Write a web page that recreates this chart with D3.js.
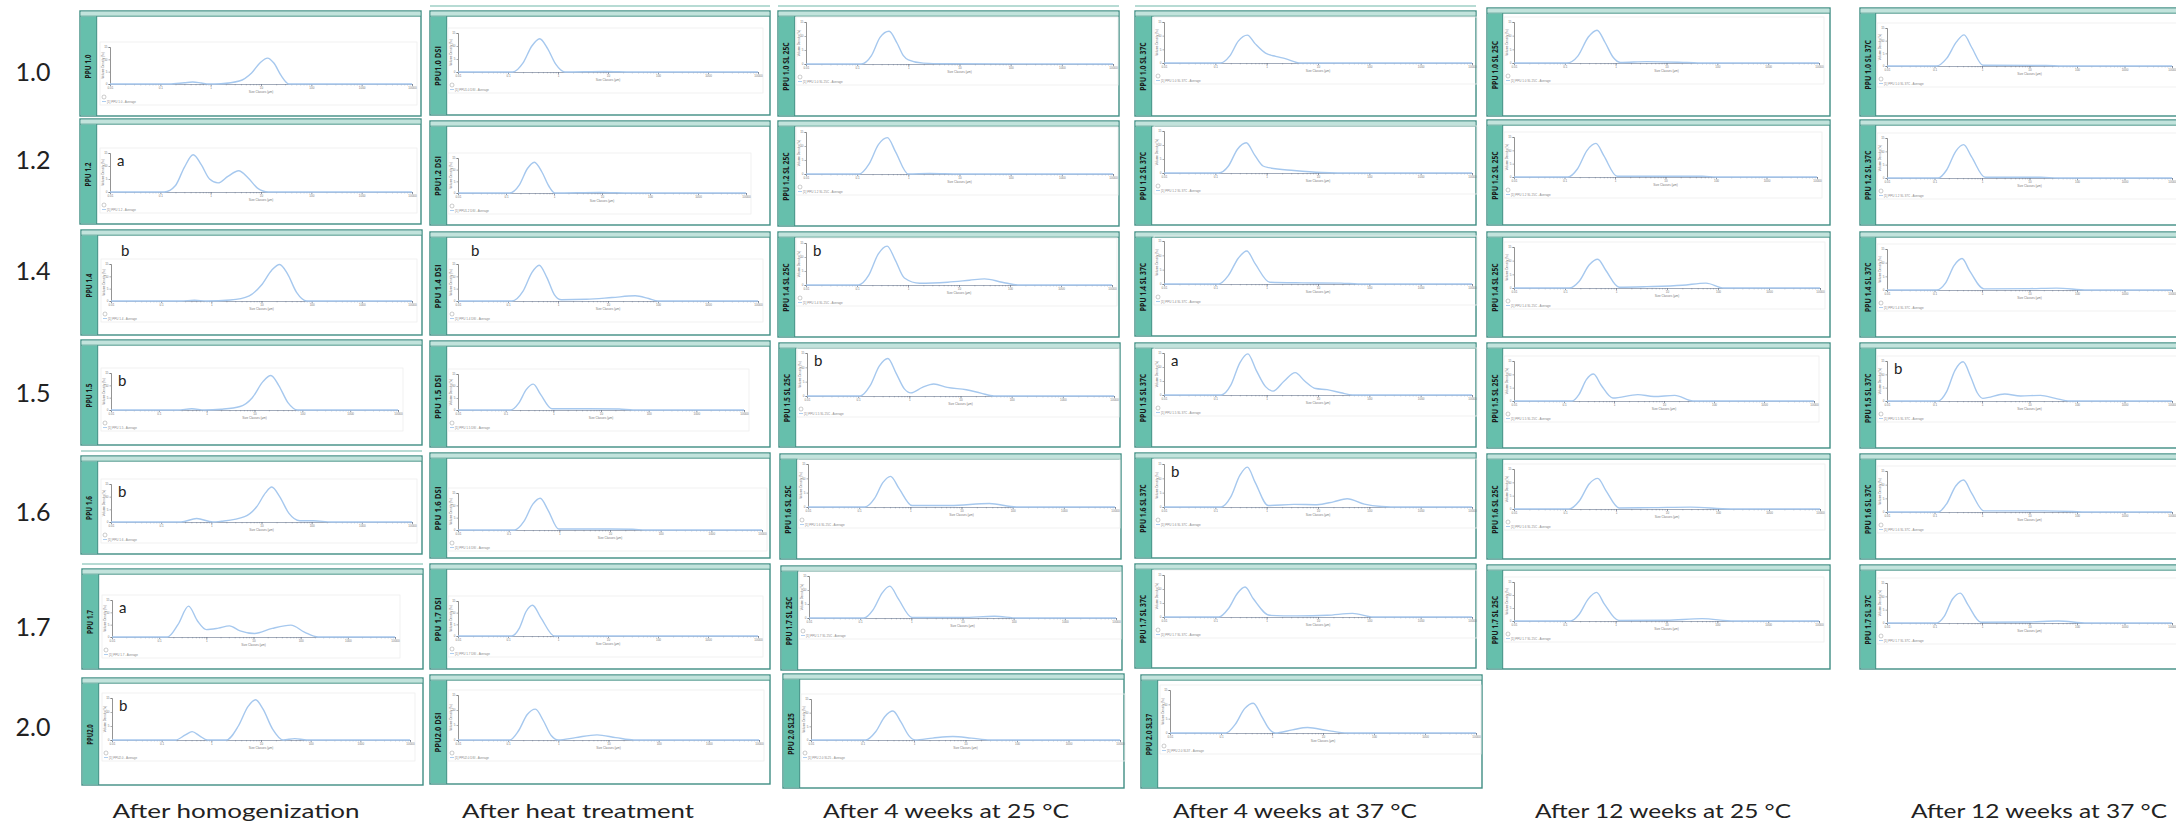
<!DOCTYPE html>
<html>
<head>
<meta charset="utf-8">
<script src="https://cdn.jsdelivr.net/npm/d3@7"></script>
<style>
body { margin: 0; background: #fff; }
</style>
</head>
<body>
<script>
var width = 2176;
var height = 826;

// ---- data ----
var rowLabels = ["1.0", "1.2", "1.4", "1.5", "1.6", "1.7", "2.0"];
var stageLabels = ["After homogenization", "After heat treatment", "After 4 weeks at 25 \u00B0C",
  "After 4 weeks at 37 \u00B0C", "After 12 weeks at 25 \u00B0C", "After 12 weeks at 37 \u00B0C"];

var xTickValues = [0.01, 0.1, 1, 10, 100, 1000, 10000];
var xTickLabels = ["0.01", "0.1", "1", "10", "100", "1000", "10000"];
var yTickValues = [0, 5, 10, 15];

var homogenizationTitles = ["PPU 1.0", "PPU 1.2", "PPU 1.4", "PPU 1.5", "PPU 1.6", "PPU 1.7", "PPU2.0"];
var heatTitles = ["PPU1.0 DSI", "PPU1.2 DSI", "PPU 1.4 DSI", "PPU 1.5 DSI", "PPU 1.6 DSI", "PPU 1.7 DSI", "PPU2.0 DSI"];
var week4c25Titles = ["PPU 1.0 SL 25C", "PPU 1.2 SL 25C", "PPU 1.4 SL 25C", "PPU 1.5 SL 25C", "PPU 1.6 SL 25C", "PPU 1.7 SL 25C", "PPU 2.0 SL25"];
var week4c37Titles = ["PPU 1.0 SL 37C", "PPU 1.2 SL 37C", "PPU 1.4 SL 37C", "PPU 1.5 SL 37C", "PPU 1.6 SL 37C", "PPU 1.7 SL 37C", "PPU 2.0 SL37"];
var week12c25Titles = ["PPU 1.0 SL 25C", "PPU 1.2 SL 25C", "PPU 1.4 SL 25C", "PPU 1.5 SL 25C", "PPU 1.6 SL 25C", "PPU 1.7 SL 25C"];
var week12c37Titles = ["PPU 1.0 SL 37C", "PPU 1.2 SL 37C", "PPU 1.4 SL 37C", "PPU 1.5 SL 37C", "PPU 1.6 SL 37C", "PPU 1.7 SL 37C"];

var homogenizationLetters = ["", "a", "b", "b", "b", "a", "b"];
var heatLetters = ["", "", "b", "", "", "", ""];
var week4c25Letters = ["", "", "b", "b", "", "", ""];
var week4c37Letters = ["", "", "", "a", "b", "", ""];
var week12c25Letters = ["", "", "", "", "", ""];
var week12c37Letters = ["", "", "", "b", "", ""];

// size (um), volume density (%)
var homogenizationCurves = [
  [[0.01,0],[0.15,0],[0.3,0.5],[0.44,0.8],[0.65,0.4],[0.9,0],[1.6,0.1],[3.7,1.2],[6.5,4.5],[9.5,8.5],[13.5,10.5],[18,8.5],[25,3.5],[36,0],[10000,0]],
  [[0.01,0],[0.12,0],[0.2,2.5],[0.3,9.5],[0.45,14.3],[0.65,10.5],[0.95,5],[1.4,3.5],[2.2,6],[3.6,8.2],[5.5,5.5],[8.5,1.5],[14,0],[10000,0]],
  [[0.01,0],[0.25,0],[0.46,0.3],[0.8,0],[2.4,0.4],[5.7,2.1],[10,6.5],[16,12.5],[23,14.8],[33,11],[50,3.5],[80,0],[10000,0]],
  [[0.01,0],[0.25,0],[0.49,0.5],[0.9,0],[2,0.3],[5,1.4],[9,5],[15,11.5],[22,14],[32,10],[50,3],[80,0],[10000,0]],
  [[0.01,0],[0.25,0],[0.51,1.4],[1.07,0],[1.6,0.3],[4.6,2.1],[8,6],[12,11.5],[16,13.8],[23,10],[35,3.5],[58,0.5],[107,0.5],[250,0],[10000,0]],
  [[0.01,0],[0.15,0],[0.25,5],[0.42,12.5],[0.65,6.5],[1.0,3],[1.8,3.6],[3.1,4.5],[5.2,2.5],[10.5,1.4],[25,3.5],[62,4.8],[120,2],[235,0],[10000,0]],
  [[0.01,0],[0.19,0],[0.3,1.8],[0.41,3],[0.58,1.5],[0.83,0],[2,0],[3.5,5],[5.5,12],[7.8,14.4],[11,11],[17,4],[28,0],[48,0.5],[83,0],[10000,0]]
];
var heatCurves = [
  [[0.01,0],[0.125,0],[0.2,3.5],[0.3,10],[0.43,12.8],[0.62,9],[0.9,3],[1.37,0],[8.7,0.2],[30,0],[10000,0]],
  [[0.01,0],[0.12,0],[0.19,3.5],[0.28,10.5],[0.39,13.2],[0.56,9],[0.78,3],[1.04,0],[9,0.2],[40,0],[10000,0]],
  [[0.01,0],[0.12,0],[0.2,4],[0.3,11.5],[0.42,14.5],[0.6,9.5],[0.85,2.5],[1.17,0.5],[3.7,0.7],[12,1.4],[35,2.1],[65,1],[100,0],[10000,0]],
  [[0.01,0],[0.126,0],[0.19,3],[0.27,8.5],[0.38,10.8],[0.54,6.5],[0.93,0.5],[5,0.5],[24,0.4],[47,0],[10000,0]],
  [[0.01,0],[0.13,0],[0.2,3.5],[0.3,10.5],[0.42,12.9],[0.6,8],[0.97,0.4],[10,0.4],[28,0.3],[50,0],[10000,0]],
  [[0.01,0],[0.118,0],[0.17,3.5],[0.23,10.5],[0.31,13.2],[0.45,8],[0.85,0],[10000,0]],
  [[0.01,0],[0.107,0],[0.16,3],[0.24,8.5],[0.35,10.3],[0.5,6.5],[0.72,1.5],[1.0,0],[2.2,0.8],[5.9,1.7],[14,0.8],[32,0],[10000,0]]
];
var week4c25Curves = [
  [[0.01,0],[0.12,0],[0.19,3],[0.28,9.5],[0.42,11.7],[0.6,7.5],[0.8,3],[1.0,1.5],[1.96,0.3],[5,0.1],[10000,0]],
  [[0.01,0],[0.11,0],[0.17,3.5],[0.26,10.5],[0.39,13],[0.56,8],[1.0,0],[2.6,0.2],[10,0],[10000,0]],
  [[0.01,0],[0.107,0],[0.17,3.5],[0.26,11],[0.39,13.9],[0.56,9],[0.85,2.5],[1.7,0.6],[6,1],[16,1.7],[31.6,2.2],[70,1],[150,0],[10000,0]],
  [[0.01,0],[0.11,0],[0.17,3.5],[0.26,10.5],[0.38,13.1],[0.55,8],[0.8,2.5],[1.07,1.1],[1.8,3],[3.0,4.2],[5.5,3],[13,2.2],[25,1],[45,0],[10000,0]],
  [[0.01,0],[0.13,0],[0.2,3],[0.29,8.5],[0.41,10.7],[0.6,6.5],[1.08,0.5],[6,0.5],[35,1.2],[118,0],[10000,0]],
  [[0.01,0],[0.118,0],[0.18,3],[0.27,9],[0.38,11.4],[0.55,7],[1.03,0.2],[10,0.2],[42,0.6],[120,0],[10000,0]],
  [[0.01,0],[0.115,0],[0.18,3],[0.27,8.5],[0.39,10.6],[0.56,6.5],[0.8,1.5],[1.05,0],[2.3,0.7],[5.7,1.3],[13,0.7],[30,0],[10000,0]]
];
var week4c37Curves = [
  [[0.01,0],[0.125,0],[0.19,2.5],[0.28,8],[0.42,10.2],[0.6,7],[0.95,3.6],[1.5,2.4],[2.3,1.6],[4.6,0],[10000,0]],
  [[0.01,0],[0.117,0],[0.18,2.5],[0.27,8.5],[0.4,10.8],[0.58,6.5],[0.85,2.5],[1.1,1.9],[3.4,0.9],[11.6,0.2],[50,0],[10000,0]],
  [[0.01,0],[0.117,0],[0.18,3],[0.28,9],[0.41,11.5],[0.6,7],[1.15,0.6],[5,0.4],[28,0.3],[60,0],[10000,0]],
  [[0.01,0],[0.13,0],[0.2,3.5],[0.3,11.5],[0.43,14.7],[0.62,9],[0.95,3],[1.33,1.4],[2.2,5],[3.6,8],[5.5,5],[9,2.3],[15,1.9],[28,0.8],[47,0],[10000,0]],
  [[0.01,0],[0.13,0],[0.2,3.5],[0.3,11],[0.42,13.9],[0.6,8.5],[1.07,0.5],[3.4,0.9],[9.5,0.8],[20,1.8],[37,2.9],[80,1],[174,0.2],[400,0],[10000,0]],
  [[0.01,0],[0.117,0],[0.18,3],[0.27,8.5],[0.38,10.7],[0.55,6.5],[1.15,0.6],[4,0.4],[15,0.6],[47,1.3],[118,0],[10000,0]],
  [[0.01,0],[0.125,0],[0.19,3],[0.29,8.5],[0.43,10.4],[0.62,6],[0.9,1.2],[1.16,0],[2.5,1.1],[5,1.9],[12,0.9],[30,0],[10000,0]]
];
var week12c25Curves = [
  [[0.01,0],[0.11,0],[0.18,2.5],[0.29,9.5],[0.43,12],[0.62,7.5],[0.9,2],[1.23,0.2],[4.1,0.5],[25,0.2],[60,0],[10000,0]],
  [[0.01,0],[0.117,0],[0.18,3],[0.28,10],[0.42,12.6],[0.6,8],[1.1,0.3],[54,0.3],[100,0],[10000,0]],
  [[0.01,0],[0.12,0],[0.19,2.5],[0.3,8.5],[0.44,10.5],[0.63,6.5],[1.15,0.3],[4,0.5],[20,1],[58,1.8],[130,0],[10000,0]],
  [[0.01,0],[0.145,0],[0.2,2.5],[0.28,8],[0.39,10.1],[0.55,6],[0.95,1.1],[3.0,2.4],[6.3,1.7],[16.4,2.1],[38,0],[10000,0]],
  [[0.01,0],[0.12,0],[0.19,3],[0.3,9.5],[0.44,11.5],[0.63,7],[1.15,0.4],[5,0.5],[29,0.7],[178,0],[10000,0]],
  [[0.01,0],[0.13,0],[0.19,2.5],[0.29,8.5],[0.42,11],[0.6,6.5],[1.15,0.2],[10,0.3],[50,0.9],[214,0],[10000,0]]
];
var week12c37Curves = [
  [[0.01,0],[0.11,0],[0.18,3],[0.29,9.5],[0.42,12.3],[0.6,7.5],[1.05,0.3],[22,0.2],[50,0],[10000,0]],
  [[0.01,0],[0.12,0],[0.18,3],[0.28,10],[0.41,12.5],[0.6,8],[1.16,0.3],[17,0.3],[40,0],[10000,0]],
  [[0.01,0],[0.11,0],[0.17,2.5],[0.26,9],[0.38,11.5],[0.55,7],[1.1,0.4],[10,0.5],[37,0.7],[165,0],[10000,0]],
  [[0.01,0],[0.12,0],[0.18,3.5],[0.27,11.5],[0.4,14.7],[0.58,9],[0.8,3],[1.04,1],[3,2.6],[6.5,1.9],[17,2.1],[35,1],[70,0],[10000,0]],
  [[0.01,0],[0.12,0],[0.18,3],[0.28,9.5],[0.41,11.7],[0.6,7],[1.1,0.4],[20,0.4],[80,0.2],[150,0],[10000,0]],
  [[0.01,0],[0.11,0],[0.16,2.5],[0.24,9],[0.35,11.2],[0.5,7],[0.95,0.3],[10,0.4],[40,0.75],[165,0],[10000,0]]
];

var stageTitles = [homogenizationTitles, heatTitles, week4c25Titles, week4c37Titles, week12c25Titles, week12c37Titles];
var stageCurves = [homogenizationCurves, heatCurves, week4c25Curves, week4c37Curves, week12c25Curves, week12c37Curves];
var stageLetters = [homogenizationLetters, heatLetters, week4c25Letters, week4c37Letters, week12c25Letters, week12c37Letters];

// ---- layout (pixels) ----
var panelLeft = [
  [80, 80, 81, 81, 81, 82, 82],
  [430, 430, 430, 430, 430, 430, 430],
  [778, 778, 778, 779, 780, 781, 783],
  [1135, 1135, 1135, 1135, 1135, 1135, 1141],
  [1487, 1487, 1487, 1487, 1487, 1487],
  [1860, 1860, 1860, 1860, 1860, 1860]
];
var panelWidth = [341, 340, 341, 341, 343, 360];
var panelTop = [
  [11, 119, 230, 340, 456, 569, 678],
  [11, 121, 232, 341, 453, 564, 675],
  [11, 121, 232, 343, 454, 566, 674],
  [11, 121, 232, 343, 453, 564, 675],
  [8, 120, 232, 343, 454, 565],
  [8, 120, 232, 343, 454, 565]
];
var panelBottom = [
  [116, 224, 335, 445, 554, 669, 785],
  [115, 225, 335, 447, 558, 669, 784],
  [116, 226, 337, 447, 559, 670, 788],
  [116, 225, 336, 447, 558, 668, 788],
  [116, 225, 337, 448, 559, 669],
  [116, 225, 337, 448, 559, 669]
];
var sideWidth = [16, 16, 16, 16, 15, 15];
var plotLeft = [30, 28, 28, 29, 27, 27];
var plotRight = [
  [332, 332, 331, 317, 331, 313, 328],
  [328, 316, 328, 314, 332, 328, 329],
  [335, 335, 334, 335, 335, 335, 337],
  [337, 337, 337, 337, 337, 337, 335],
  [332, 330, 333, 327, 333, 332],
  [312, 312, 312, 312, 312, 312]
];
var plotTop = [
  [36, 34, 34, 33, 28, 31, 20],
  [22, 37, 32, 33, 40, 37, 20],
  [11, 11, 11, 10, 10, 10, 25],
  [11, 10, 9, 10, 11, 11, 15],
  [14, 17, 15, 18, 15, 17],
  [20, 18, 17, 18, 17, 18]
];
var plotBase = [
  [73, 73, 71, 70, 66, 68, 62],
  [61, 72, 69, 69, 77, 72, 65],
  [53, 53, 53, 53, 53, 52, 66],
  [52, 52, 52, 52, 54, 53, 58],
  [55, 57, 56, 58, 55, 56],
  [58, 58, 58, 58, 58, 58]
];
var sideTextLength = [3.4, 4.0, 3.45, 3.45, 3.45, 3.55];
var letterShift = { "0-2": [10, -8], "1-2": [13, -8] };
var ghostLines = [[1, 0], [2, 0], [3, 0], [0, 4], [0, 5]];

var rowLabelY = [72, 160, 271, 393, 512, 627, 727];
var stageLabelX = [236, 578, 946, 1295, 1663, 2039];
var stageLabelW = [247, 232, 246, 244, 256, 256];

var teal = "#66bfac";
var tealDark = "#3f8e83";
var tealLight = "#c2e3dc";
var curveColor = "#a6c8ee";
var tinyFont = "'Liberation Sans', sans-serif";

var svg = d3.select("body")
  .append("svg")
  .attr("width", width)
  .attr("height", height)
  .style("display", "block");

svg.append("rect").attr("width", width).attr("height", height).attr("fill", "#fff");

// faint leftover edges above some screenshots
ghostLines.forEach(function(g) {
  var c = g[0], r = g[1];
  svg.append("line")
    .attr("x1", panelLeft[c][r]).attr("x2", panelLeft[c][r] + panelWidth[c])
    .attr("y1", panelTop[c][r] - 5).attr("y2", panelTop[c][r] - 5)
    .attr("stroke", "#9fcfc6").attr("stroke-width", 1.5);
});

stageCurves.forEach(function(curves, c) {
  curves.forEach(function(points, r) {
    var left = panelLeft[c][r];
    var top = panelTop[c][r];
    var w = panelWidth[c];
    var h = panelBottom[c][r] - top;
    var sw = sideWidth[c];

    var g = svg.append("g").attr("transform", "translate(" + left + "," + top + ")");

    // panel frame
    g.append("rect").attr("x", 0).attr("y", 0).attr("width", w).attr("height", h)
      .attr("fill", "#fff").attr("stroke", tealDark).attr("stroke-width", 1.4);
    g.append("rect").attr("x", 0.7).attr("y", 0.7).attr("width", w - 1.4).attr("height", 4.5)
      .attr("fill", tealLight);
    g.append("line").attr("x1", 0).attr("x2", w).attr("y1", 5.2).attr("y2", 5.2)
      .attr("stroke", tealDark).attr("stroke-width", 0.9);
    g.append("rect").attr("x", 0.7).attr("y", 5.6).attr("width", sw).attr("height", h - 6.3)
      .attr("fill", teal);
    g.append("line").attr("x1", sw + 0.7).attr("x2", sw + 0.7).attr("y1", 5.2).attr("y2", h)
      .attr("stroke", tealDark).attr("stroke-width", 1);

    var title = stageTitles[c][r];
    g.append("text")
      .attr("transform", "translate(" + (sw / 2 + 3.4) + "," + (h / 2 + 3) + ") rotate(-90)")
      .attr("text-anchor", "middle")
      .attr("font-family", "'Open Sans', sans-serif")
      .attr("font-weight", 700)
      .attr("font-size", 8)
      .attr("fill", "#1a1a1a")
      .attr("textLength", title.length * sideTextLength[c])
      .attr("lengthAdjust", "spacingAndGlyphs")
      .text(title);

    var pl = plotLeft[c], pr = plotRight[c][r], pt = plotTop[c][r], pb = plotBase[c][r];

    // light frame of the exported chart
    g.append("rect").attr("x", pl - 10).attr("y", pt - 5)
      .attr("width", pr - pl + 15).attr("height", pb - pt + 26)
      .attr("fill", "none").attr("stroke", "#eeeeee").attr("stroke-width", 0.8);

    var x = d3.scaleLog().domain([0.01, 10000]).range([pl, pr]);
    var y = d3.scaleLinear().domain([0, 15]).range([pb, pt]);

    // minor ticks
    g.append("g")
      .attr("transform", "translate(0," + pb + ")")
      .call(d3.axisBottom(x).tickValues(x.ticks()).tickSize(1.3).tickFormat(""))
      .call(function(a) {
        a.select(".domain").attr("stroke", "#8a96a8").attr("stroke-width", 0.8);
        a.selectAll(".tick line").attr("stroke", "#7d8798").attr("stroke-width", 0.6);
      });
    // major ticks
    g.append("g")
      .attr("transform", "translate(0," + pb + ")")
      .call(d3.axisBottom(x).tickValues(xTickValues).tickSize(2.2).tickPadding(1)
        .tickFormat(function(d, i) { return xTickLabels[i]; }))
      .call(function(a) {
        a.select(".domain").remove();
        a.selectAll(".tick line").attr("stroke", "#6f7889").attr("stroke-width", 0.7);
        a.selectAll("text").attr("font-size", 3).attr("font-family", tinyFont).attr("fill", "#777");
      });

    g.append("g")
      .attr("transform", "translate(" + pl + ",0)")
      .call(d3.axisLeft(y).tickValues(yTickValues).tickSize(1.5).tickPadding(1))
      .call(function(a) {
        a.select(".domain").attr("stroke", "#666").attr("stroke-width", 0.7);
        a.selectAll(".tick line").attr("stroke", "#777").attr("stroke-width", 0.6);
        a.selectAll("text").attr("font-size", 3).attr("font-family", tinyFont).attr("fill", "#777");
      });

    g.append("text")
      .attr("x", (pl + pr) / 2).attr("y", pb + 9)
      .attr("text-anchor", "middle").attr("font-size", 3).attr("font-family", tinyFont).attr("fill", "#777")
      .text("Size Classes (\u03BCm)");
    g.append("text")
      .attr("transform", "translate(" + (pl - 6) + "," + ((pt + pb) / 2) + ") rotate(-90)")
      .attr("text-anchor", "middle").attr("font-size", 3).attr("font-family", tinyFont).attr("fill", "#777")
      .text("Volume Density (%)");

    // legend
    g.append("circle").attr("cx", pl - 6).attr("cy", pb + 13).attr("r", 2)
      .attr("fill", "none").attr("stroke", "#aaa").attr("stroke-width", 0.6);
    g.append("line").attr("x1", pl - 8).attr("x2", pl - 4).attr("y1", pb + 17.5).attr("y2", pb + 17.5)
      .attr("stroke", curveColor).attr("stroke-width", 0.9);
    g.append("text")
      .attr("x", pl - 3).attr("y", pb + 18.5)
      .attr("font-size", 3).attr("font-family", tinyFont).attr("fill", "#888")
      .text("[1] " + title + " - Average");

    // size distribution curve
    var line = d3.line()
      .x(function(d) { return x(d[0]); })
      .y(function(d) { return y(d[1]); })
      .curve(d3.curveMonotoneX);
    g.append("path")
      .datum(points)
      .attr("d", line)
      .attr("fill", "none")
      .attr("stroke", curveColor)
      .attr("stroke-width", 1.4);

    var letter = stageLetters[c][r];
    if (letter) {
      var s = letterShift[c + "-" + r] || [7, 13];
      g.append("text")
        .attr("x", pl + s[0]).attr("y", pt + s[1])
        .attr("font-family", "Lato, sans-serif")
        .attr("font-size", 15)
        .attr("fill", "#222")
        .text(letter);
    }
  });
});

// row labels
svg.selectAll(".rowLabel")
  .data(rowLabels)
  .enter()
  .append("text")
  .attr("class", "rowLabel")
  .attr("x", 33)
  .attr("y", function(d, i) { return rowLabelY[i]; })
  .attr("dy", "0.35em")
  .attr("text-anchor", "middle")
  .attr("font-family", "Lato, sans-serif")
  .attr("font-size", 25)
  .attr("fill", "#222")
  .text(function(d) { return d; });

// stage labels
svg.selectAll(".stageLabel")
  .data(stageLabels)
  .enter()
  .append("text")
  .attr("class", "stageLabel")
  .attr("x", function(d, i) { return stageLabelX[i]; })
  .attr("y", 818)
  .attr("text-anchor", "middle")
  .attr("font-family", "Lato, sans-serif")
  .attr("font-size", 20)
  .attr("fill", "#222")
  .attr("textLength", function(d, i) { return stageLabelW[i]; })
  .attr("lengthAdjust", "spacingAndGlyphs")
  .text(function(d) { return d; });
</script>
</body>
</html>
